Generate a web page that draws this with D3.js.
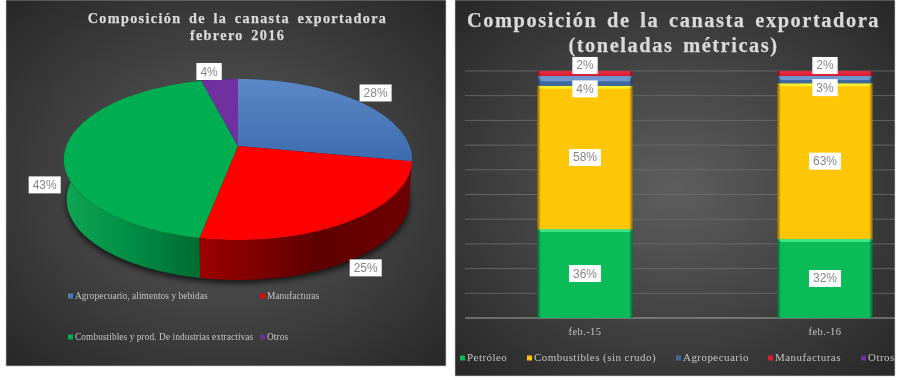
<!DOCTYPE html>
<html>
<head>
<meta charset="utf-8">
<script src="https://cdn.jsdelivr.net/npm/d3@7"></script>
<style>
  html, body { margin: 0; background: #fff; }
  svg { display: block; filter: blur(0.45px); }
  .title { font-family: "Liberation Serif", serif; font-weight: bold; fill: #d9d9d9; stroke: #d9d9d9; stroke-width: 0.25px; text-anchor: middle; }
  .legend { font-family: "Liberation Serif", serif; fill: #c4c4c4; }
  .lab { font-family: "Liberation Sans", sans-serif; font-size: 12px; fill: #858585; text-anchor: middle; }
</style>
</head>
<body>
<svg id="chart"></svg>
<script>
const width = 900;
const height = 380;

// left chart: february 2016 composition
const pieCategories = ["Agropecuario, alimentos y bebidas", "Manufacturas", "Combustibles y prod. De industrias extractivas", "Otros"];
const pieValues = [28, 25, 43, 4];
const pieColors = ["#4a7bbd", "#ff0000", "#00ad50", "#7030a0"];

// right chart: stacked percentages
const months = ["feb.-15", "feb.-16"];
const barSeries = ["Petróleo", "Combustibles (sin crudo)", "Agropecuario", "Manufacturas", "Otros"];
const feb15 = [36, 58, 4, 2, 0];
const feb16 = [32, 63, 3, 2, 0];
const barColors = ["#0abb58", "#fdc606", "#3f689f", "#dc1f35", "#7030a0"];
const barHighlights = ["#3fe585", "#fff02e", "#6f96cf", "#e8283c", "#9a5cc8"];
const yTicks = [0, 10, 20, 30, 40, 50, 60, 70, 80, 90, 100];

const svg = d3.select("#chart")
    .attr("width", width)
    .attr("height", height)
    .attr("viewBox", `0 0 ${width} ${height}`);

const defs = svg.append("defs");

// background glow shared by both panels
const bg = defs.append("radialGradient").attr("id", "panelBg").attr("cx", "50%").attr("cy", "50%").attr("r", "68%");
bg.append("stop").attr("offset", "0%").attr("stop-color", "#5e5e5e");
bg.append("stop").attr("offset", "100%").attr("stop-color", "#292929");

const blueTop = defs.append("linearGradient").attr("id", "blueTop").attr("x1", 0).attr("x2", 0).attr("y1", 0).attr("y2", 1);
blueTop.append("stop").attr("offset", "0%").attr("stop-color", "#5b88c6");
blueTop.append("stop").attr("offset", "100%").attr("stop-color", "#3d6cae");

function sideGradient(id, x1, x2, stops) {
    const g = defs.append("linearGradient").attr("id", id)
        .attr("gradientUnits", "userSpaceOnUse")
        .attr("x1", x1).attr("x2", x2).attr("y1", 0).attr("y2", 0);
    stops.forEach(s => g.append("stop").attr("offset", s[0]).attr("stop-color", s[1]));
}
sideGradient("sideRed", 200, 413, [[0, "#9c0000"], [0.55, "#5e0000"], [1, "#6e0000"]]);
sideGradient("sideGreen", 65, 202, [[0, "#0fa653"], [0.5, "#008c44"], [1, "#006a32"]]);

const edge = defs.append("linearGradient").attr("id", "barEdge");
[[0, 0.45], [0.035, 0], [0.965, 0], [1, 0.45]].forEach(s =>
    edge.append("stop").attr("offset", s[0]).attr("stop-color", "#000").attr("stop-opacity", s[1]));

defs.append("filter").attr("id", "soft").attr("x", "-10%").attr("y", "-10%").attr("width", "120%").attr("height", "130%")
    .append("feGaussianBlur").attr("stdDeviation", 3);

function addPanel(id, x, y, w, h) {
    defs.append("clipPath").attr("id", id).append("rect").attr("x", x).attr("y", y).attr("width", w).attr("height", h);
    const g = svg.append("g").attr("clip-path", `url(#${id})`);
    g.append("rect").attr("x", x).attr("y", y).attr("width", w).attr("height", h).attr("fill", "url(#panelBg)");
    return g;
}

function addLabel(g, text, cx, cy) {
    const box = g.append("rect").attr("fill", "#fff");
    const t = g.append("text").attr("class", "lab").attr("x", cx).attr("y", cy + 4).text(text);
    const w = t.node().getComputedTextLength() + 8;
    box.attr("x", cx - w / 2).attr("y", cy - 8.5).attr("width", w).attr("height", 17);
}

function addTitle(g, lines, cx, y0, lineGap, size, spacing) {
    lines.forEach((line, i) => {
        g.append("text").attr("class", "title")
            .attr("x", cx).attr("y", y0 + i * lineGap)
            .style("font-size", size + "px")
            .style("letter-spacing", spacing + "px")
            .style("word-spacing", spacing * 2 + "px")
            .text(line);
    });
}

function addLegendItem(g, text, color, x, y, size, spacing) {
    g.append("rect").attr("x", x).attr("y", y - 2.5).attr("width", 5).attr("height", 5).attr("fill", color);
    g.append("text").attr("class", "legend")
        .attr("x", x + 7).attr("y", y + 3)
        .style("font-size", size + "px")
        .style("letter-spacing", spacing + "px")
        .text(text);
}

// ---------- pie ----------
const left = addPanel("clipLeft", 6, 0, 440, 366);
addTitle(left, ["Composición de la canasta exportadora", "febrero 2016"], 237.5, 23, 17, 14.2, 1.35);

const cx = 238, cy = 146;   // apex of the slices
const radius = 171.5, tilt = 78.2, persp = 0.168, depth = 40;

// perspective projection of a point on the pie's rim
function rim(a) {
    const s = Math.sin(a), c = Math.cos(a), d = 1 + persp * c;
    return [radius * s / d, -tilt * c / d];
}

const arcs = d3.pie().sort(null)(pieValues);

function arcPoints(d, dy = 0, shrink = 1) {
    const n = Math.max(8, Math.ceil((d.endAngle - d.startAngle) * 40));
    return d3.range(n + 1).map(i => {
        const p = rim(d.startAngle + (d.endAngle - d.startAngle) * i / n);
        return [cx + p[0] * shrink, cy + p[1] + dy];
    });
}

const line = d3.line();
const fullCircle = { startAngle: 0, endAngle: 2 * Math.PI };

// shadow under the pie
left.append("path")
    .attr("d", line(arcPoints(fullCircle, depth + 3, 0.985)) + "Z")
    .attr("fill", "#000").attr("opacity", 0.75).attr("filter", "url(#soft)");

// sides first, top faces over them
const sideFill = ["#2c4f80", "url(#sideRed)", "url(#sideGreen)", "#3d1a58"];
left.selectAll("path.side").data(arcs).enter().append("path")
    .attr("class", "side")
    .attr("d", d => line(arcPoints(d).concat(arcPoints(d, depth, 0.985).reverse())) + "Z")
    .attr("fill", (d, i) => sideFill[i]);

left.selectAll("path.top").data(arcs).enter().append("path")
    .attr("class", "top")
    .attr("d", d => line([[cx, cy]].concat(arcPoints(d))) + "Z")
    .attr("fill", (d, i) => i === 0 ? "url(#blueTop)" : pieColors[i]);

// labels sit just outside the rim, front ones also clear the side wall
arcs.forEach(d => {
    const mid = (d.startAngle + d.endAngle) / 2;
    const s = Math.sin(mid), c = Math.cos(mid);
    const p = rim(mid);
    const lx = p[0] + Math.sign(s) * (9 + 12 * Math.abs(s));
    const ly = p[1] + (c < 0 ? 36 + 13 * Math.abs(c) : -8);
    addLabel(left, d.value + "%", cx + lx, cy + ly);
});

const pieLegendX = [68, 260, 68, 260];
const pieLegendY = [296, 296, 337, 337];
pieCategories.forEach((name, i) => {
    addLegendItem(left, name, pieColors[i], pieLegendX[i], pieLegendY[i], 9.4, 0.06);
});

// ---------- stacked bars ----------
const right = addPanel("clipRight", 455, 0, 440, 376);
addTitle(right, ["Composición de la canasta exportadora", "(toneladas métricas)"], 673.5, 27, 25, 20.4, 1.55);

// the plot runs past the panel edge, the picture is cut off there
const x = d3.scaleBand().domain(months).range([465, 945]).paddingInner(0.604).paddingOuter(0.302);
const y = d3.scaleLinear().domain([0, 100]).range([318, 71]);

right.selectAll("line.grid").data(yTicks.slice(1)).enter().append("line")
    .attr("class", "grid")
    .attr("x1", 465).attr("x2", 895)
    .attr("y1", d => y(d)).attr("y2", d => y(d))
    .attr("stroke", "#6f6f6f").attr("stroke-width", 0.8);

const xAxis = right.append("g")
    .attr("transform", `translate(0,${y(0)})`)
    .call(d3.axisBottom(x).tickSize(0).tickPadding(10));
xAxis.select(".domain").attr("stroke", "#a6a6a6").attr("d", "M465,0H945");
xAxis.selectAll("text")
    .style("font-family", "Liberation Serif, serif")
    .style("font-size", "10.5px")
    .style("letter-spacing", "0.4px")
    .attr("fill", "#c4c4c4");

const stack = d3.stack().keys(d3.range(barSeries.length)).value((row, k) => row[k]);
const layers = stack([feb15, feb16]);

layers.forEach((layer, k) => {
    layer.forEach((seg, j) => {
        const value = seg[1] - seg[0];
        if (value === 0) return;
        const bx = x(months[j]), bw = x.bandwidth();
        const top = y(seg[1]), h = y(seg[0]) - y(seg[1]);
        const strip = value < 5 ? h * 0.55 : 3;   // thin segments are mostly highlight
        right.append("rect").attr("x", bx).attr("y", top).attr("width", bw).attr("height", h).attr("fill", barColors[k]);
        right.append("path")
            .attr("d", `M${bx},${top}H${bx + bw}l-3,${strip}H${bx + 3}Z`)
            .attr("fill", barHighlights[k]);
        right.append("rect").attr("x", bx).attr("y", top).attr("width", bw).attr("height", h).attr("fill", "url(#barEdge)");
    });
});

// thin segments have their labels pushed apart, so the boxes do not collide
const labelShift = [0, 0, 8, -8, 0];
layers.forEach((layer, k) => {
    layer.forEach((seg, j) => {
        const value = seg[1] - seg[0];
        if (value === 0) return;
        addLabel(right, value + "%", x(months[j]) + x.bandwidth() / 2, y((seg[0] + seg[1]) / 2) + labelShift[k]);
    });
});

const barLegendX = [460, 527, 676, 768, 861];
barSeries.forEach((name, i) => {
    addLegendItem(right, name, barColors[i], barLegendX[i], 358, 11, 0.45);
});

// thin frames around the panels
svg.append("rect").attr("x", 6).attr("y", 0).attr("width", 440).attr("height", 366).attr("fill", "none").attr("stroke", "#c9c9c9").attr("stroke-width", 0.6);
svg.append("rect").attr("x", 455).attr("y", 0).attr("width", 440).attr("height", 376).attr("fill", "none").attr("stroke", "#c9c9c9").attr("stroke-width", 0.6);
</script>
</body>
</html>
